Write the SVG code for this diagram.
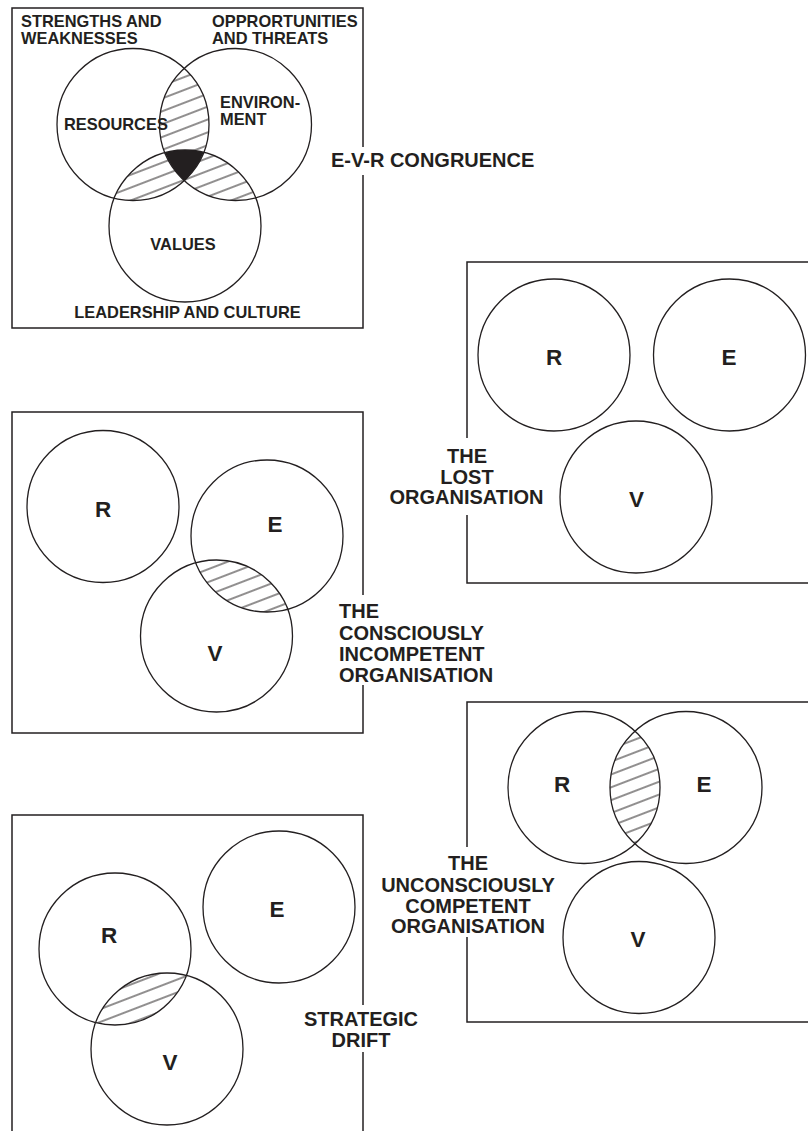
<svg xmlns="http://www.w3.org/2000/svg" width="808" height="1131" viewBox="0 0 808 1131">
  <style>
    .frame { fill: none; stroke: #231f20; stroke-width: 1.5; }
    .ring { fill: none; stroke: #231f20; stroke-width: 1.3; }
    .gap { fill: #ffffff; stroke: none; }
    .t { font-family: "Liberation Sans", Arial, Helvetica, sans-serif; font-weight: bold; fill: #231f20; }
    .small { font-size: 16.4px; }
    .big { font-size: 20px; }
    .letter { font-size: 22.5px; text-anchor: middle; }
    .mid { text-anchor: middle; }
  </style>
  <defs>
    <!-- diagonal hatching used for pairwise overlaps -->
    <pattern id="hatch" patternUnits="userSpaceOnUse" width="12" height="12" patternTransform="rotate(-21)">
      <line x1="-1" y1="6" x2="13" y2="6" stroke="#231f20" stroke-width="1"/>
    </pattern>
    <!-- circle clips, one set per panel -->
    <clipPath id="p1R"><circle cx="133" cy="124.5" r="76"/></clipPath>
    <clipPath id="p1E"><circle cx="235.5" cy="124.5" r="76"/></clipPath>
    <clipPath id="p1V"><circle cx="185" cy="226" r="76"/></clipPath>
    <clipPath id="p3E"><circle cx="267" cy="536" r="76"/></clipPath>
    <clipPath id="p4R"><circle cx="584" cy="787.5" r="76"/></clipPath>
    <clipPath id="p5R"><circle cx="115" cy="949" r="76"/></clipPath>
  </defs>

  <rect width="808" height="1131" fill="#ffffff"/>

  <!-- E-V-R congruence -->
  <g id="congruence">
    <rect class="frame" x="12" y="8" width="351" height="320"/>
    <rect class="gap" x="358" y="147" width="10" height="28"/>
    <g id="congruence-overlaps">
      <g clip-path="url(#p1R)"><circle cx="235.5" cy="124.5" r="76" fill="url(#hatch)"/></g>
      <g clip-path="url(#p1R)"><circle cx="185" cy="226" r="76" fill="url(#hatch)"/></g>
      <g clip-path="url(#p1E)"><circle cx="185" cy="226" r="76" fill="url(#hatch)"/></g>
      <g clip-path="url(#p1R)"><g clip-path="url(#p1E)"><circle cx="185" cy="226" r="76" fill="#231f20"/></g></g>
    </g>
    <g id="congruence-resources"><circle class="ring" cx="133" cy="124.5" r="76"/></g>
    <g id="congruence-environment"><circle class="ring" cx="235.5" cy="124.5" r="76"/></g>
    <g id="congruence-values"><circle class="ring" cx="185" cy="226" r="76"/></g>
    <text class="t small" x="21" y="27">STRENGTHS AND</text>
    <text class="t small" x="21" y="43.5">WEAKNESSES</text>
    <text class="t small" x="212" y="27">OPPRORTUNITIES</text>
    <text class="t small" x="212" y="43.5">AND THREATS</text>
    <text class="t small" x="64" y="130">RESOURCES</text>
    <text class="t small" x="220" y="108">ENVIRON-</text>
    <text class="t small" x="220" y="124.5">MENT</text>
    <text class="t small mid" x="183" y="250">VALUES</text>
    <text class="t small mid" x="187.5" y="318">LEADERSHIP AND CULTURE</text>
    <text class="t big" x="331" y="167">E-V-R CONGRUENCE</text>
  </g>

  <!-- The lost organisation -->
  <g id="lost">
    <rect class="frame" x="467" y="262" width="360" height="321"/>
    <rect class="gap" x="462" y="438" width="10" height="77"/>
    <g id="lost-R"><circle class="ring" cx="554" cy="355" r="76"/><text class="t letter" x="554" y="365">R</text></g>
    <g id="lost-E"><circle class="ring" cx="729.5" cy="355" r="76"/><text class="t letter" x="729" y="365">E</text></g>
    <g id="lost-V"><circle class="ring" cx="636" cy="497" r="76"/><text class="t letter" x="636.5" y="507">V</text></g>
    <text class="t big mid" x="467" y="463">THE</text>
    <text class="t big mid" x="467" y="483.5">LOST</text>
    <text class="t big mid" x="466.5" y="504">ORGANISATION</text>
  </g>

  <!-- The consciously incompetent organisation -->
  <g id="consciously-incompetent">
    <rect class="frame" x="12" y="412" width="351" height="321"/>
    <rect class="gap" x="358" y="595" width="10" height="90"/>
    <g clip-path="url(#p3E)"><circle cx="216.5" cy="636" r="76" fill="url(#hatch)"/></g>
    <g id="ci-R"><circle class="ring" cx="103" cy="506.5" r="76"/><text class="t letter" x="103" y="517">R</text></g>
    <g id="ci-E"><circle class="ring" cx="267" cy="536" r="76"/><text class="t letter" x="275" y="532">E</text></g>
    <g id="ci-V"><circle class="ring" cx="216.5" cy="636" r="76"/><text class="t letter" x="215" y="661">V</text></g>
    <text class="t big" x="339" y="617.5">THE</text>
    <text class="t big" x="339" y="640">CONSCIOUSLY</text>
    <text class="t big" x="339" y="661">INCOMPETENT</text>
    <text class="t big" x="339" y="682">ORGANISATION</text>
  </g>

  <!-- The unconsciously competent organisation -->
  <g id="unconsciously-competent">
    <rect class="frame" x="467" y="702" width="360" height="320"/>
    <rect class="gap" x="462" y="847" width="10" height="90"/>
    <g clip-path="url(#p4R)"><circle cx="686" cy="787.5" r="76" fill="url(#hatch)"/></g>
    <g id="uc-R"><circle class="ring" cx="584" cy="787.5" r="76"/><text class="t letter" x="562" y="792">R</text></g>
    <g id="uc-E"><circle class="ring" cx="686" cy="787.5" r="76"/><text class="t letter" x="704" y="792">E</text></g>
    <g id="uc-V"><circle class="ring" cx="639" cy="937.5" r="76"/><text class="t letter" x="638" y="947">V</text></g>
    <text class="t big mid" x="468" y="870">THE</text>
    <text class="t big mid" x="468" y="891.5">UNCONSCIOUSLY</text>
    <text class="t big mid" x="468" y="912.5">COMPETENT</text>
    <text class="t big mid" x="468" y="933">ORGANISATION</text>
  </g>

  <!-- Strategic drift -->
  <g id="strategic-drift">
    <rect class="frame" x="12" y="815" width="351" height="330"/>
    <rect class="gap" x="358" y="1005" width="10" height="47"/>
    <g clip-path="url(#p5R)"><circle cx="167" cy="1049" r="76" fill="url(#hatch)"/></g>
    <g id="sd-R"><circle class="ring" cx="115" cy="949" r="76"/><text class="t letter" x="109" y="943">R</text></g>
    <g id="sd-E"><circle class="ring" cx="279" cy="907" r="76"/><text class="t letter" x="277" y="917">E</text></g>
    <g id="sd-V"><circle class="ring" cx="167" cy="1049" r="76"/><text class="t letter" x="170" y="1070">V</text></g>
    <text class="t big mid" x="361" y="1026">STRATEGIC</text>
    <text class="t big mid" x="361" y="1047">DRIFT</text>
  </g>
</svg>
